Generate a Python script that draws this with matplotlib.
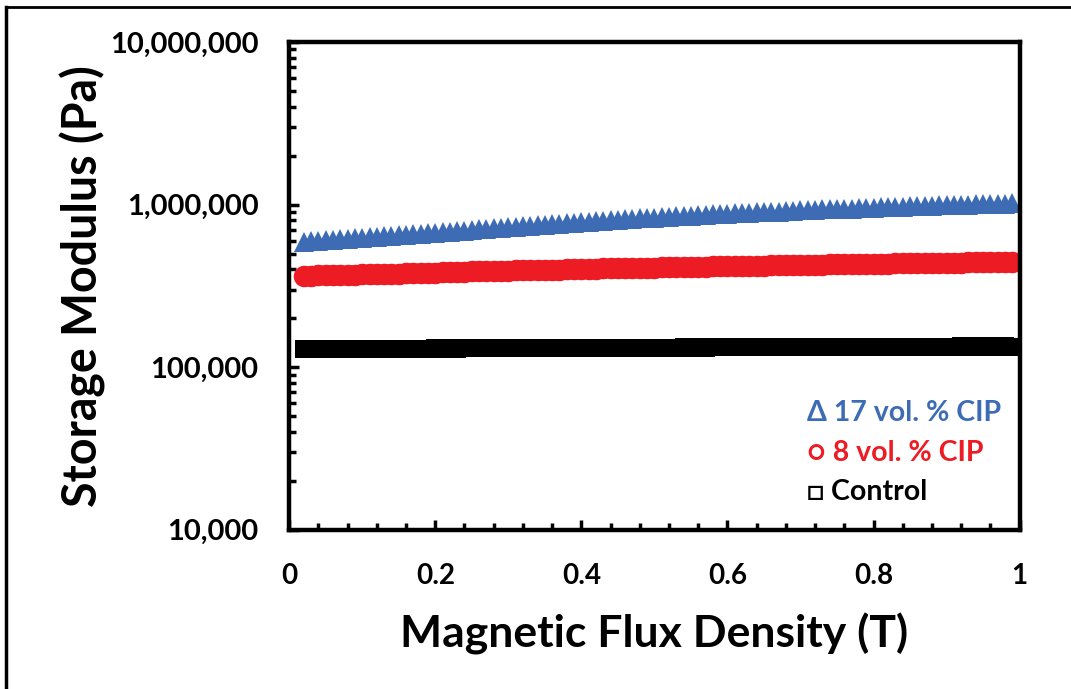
#Storage modulus vs magnetic flux density for CIP-filled samples

import matplotlib
matplotlib.use('Agg')
import matplotlib.pyplot as plt
from matplotlib.ticker import FuncFormatter, MultipleLocator, LogLocator
from matplotlib.lines import Line2D

plt.rcParams['font.family'] = ['Lato', 'DejaVu Sans']
plt.rcParams['font.weight'] = 'bold'

#magnetic flux density sweep (T)
flux_density = [
    0.02, 0.03, 0.04, 0.05, 0.06, 0.07, 0.08, 0.09, 0.10, 0.11,
    0.12, 0.13, 0.14, 0.15, 0.16, 0.17, 0.18, 0.19, 0.20, 0.21,
    0.22, 0.23, 0.24, 0.25, 0.26, 0.27, 0.28, 0.29, 0.30, 0.31,
    0.32, 0.33, 0.34, 0.35, 0.36, 0.37, 0.38, 0.39, 0.40, 0.41,
    0.42, 0.43, 0.44, 0.45, 0.46, 0.47, 0.48, 0.49, 0.50, 0.51,
    0.52, 0.53, 0.54, 0.55, 0.56, 0.57, 0.58, 0.59, 0.60, 0.61,
    0.62, 0.63, 0.64, 0.65, 0.66, 0.67, 0.68, 0.69, 0.70, 0.71,
    0.72, 0.73, 0.74, 0.75, 0.76, 0.77, 0.78, 0.79, 0.80, 0.81,
    0.82, 0.83, 0.84, 0.85, 0.86, 0.87, 0.88, 0.89, 0.90, 0.91,
    0.92, 0.93, 0.94, 0.95, 0.96, 0.97, 0.98, 0.99,
]

#storage modulus in kPa for each sample
cip17_kpa = [
    590, 596, 599, 603, 609, 611, 617, 620, 625, 631,
    633, 640, 643, 648, 654, 656, 663, 667, 672, 678,
    681, 688, 692, 698, 704, 707, 714, 719, 724, 731,
    734, 741, 746, 752, 758, 761, 769, 773, 780, 786,
    788, 796, 800, 806, 812, 814, 822, 826, 832, 837,
    840, 847, 851, 856, 861, 863, 870, 874, 878, 883,
    885, 892, 896, 900, 905, 907, 914, 917, 921, 926,
    927, 934, 937, 940, 945, 946, 953, 955, 958, 963,
    964, 970, 972, 975, 980, 980, 986, 988, 990, 995,
    995, 1001, 1002, 1005, 1009, 1009, 1014, 1018,
]

cip8_kpa = [
    365, 366, 368, 368, 369, 370, 371, 371, 372, 374,
    374, 376, 376, 377, 379, 379, 380, 381, 382, 384,
    384, 386, 386, 388, 389, 389, 391, 392, 393, 394,
    394, 396, 396, 397, 399, 399, 400, 401, 402, 403,
    403, 405, 405, 406, 407, 407, 409, 409, 410, 411,
    411, 413, 413, 414, 415, 415, 417, 417, 418, 419,
    419, 421, 421, 422, 423, 423, 425, 425, 426, 427,
    427, 428, 429, 429, 430, 431, 431, 432, 433, 434,
    434, 435, 435, 436, 437, 437, 438, 438, 439, 440,
    440, 441, 441, 442, 442, 443, 443, 444,
]

control_kpa = [
    129.0, 129.3, 128.8, 129.2, 129.4, 129.0, 129.5, 129.3, 129.6, 129.4,
    129.8, 129.5, 130.0, 129.7, 130.1, 129.9, 130.2, 130.0, 130.4, 130.1,
    130.5, 130.3, 130.6, 130.8, 130.4, 130.9, 130.7, 131.0, 130.8, 131.1,
    130.9, 131.2, 131.0, 131.4, 131.1, 131.3, 131.5, 131.2, 131.6, 131.4,
    131.7, 131.5, 131.8, 131.6, 131.9, 131.7, 132.0, 131.8, 132.1, 131.9,
    132.2, 132.0, 132.3, 132.1, 132.4, 132.2, 132.5, 132.3, 132.6, 132.4,
    132.7, 132.5, 132.8, 132.6, 132.9, 132.7, 133.0, 132.8, 133.1, 132.9,
    133.2, 133.0, 133.3, 133.1, 133.4, 133.2, 133.5, 133.3, 133.6, 133.4,
    133.7, 133.5, 133.8, 133.6, 133.9, 133.7, 134.0, 133.8, 134.1, 133.9,
    134.2, 134.0, 134.3, 134.1, 134.2, 134.0, 134.3, 134.1,
]

labels = ['\u0394 17 vol. % CIP', '\u25cb 8 vol. % CIP', '\u25a1 Control']
colors = ['#3D6CB5', '#ED1C24', 'black']

#convert kPa to Pa
cip17 = [v * 1000 for v in cip17_kpa]
cip8 = [v * 1000 for v in cip8_kpa]
control = [v * 1000 for v in control_kpa]

fig = plt.figure(figsize=(10.71, 6.89), dpi=100)
ax = fig.add_axes([0.270, 0.231, 0.682, 0.708])

ax.plot(flux_density, control, linestyle='none', marker='s', markersize=13.5,
        color=colors[2], markeredgewidth=0)
ax.plot(flux_density, cip8, linestyle='none', marker='o', markersize=15.5,
        color=colors[1], markeredgewidth=0)
ax.plot(flux_density, cip17, linestyle='none', marker='^', markersize=14.5,
        color=colors[0], markeredgewidth=0)

ax.set_yscale('log')
ax.set_ylim(1e4, 1e7)
ax.set_xlim(0, 1)

ax.yaxis.set_major_locator(LogLocator(base=10, numticks=10))
ax.yaxis.set_minor_locator(LogLocator(base=10, subs=range(2, 10), numticks=20))
ax.yaxis.set_major_formatter(FuncFormatter(lambda v, p: f'{int(round(v)):,}'))
ax.xaxis.set_major_locator(MultipleLocator(0.2))
ax.xaxis.set_minor_locator(MultipleLocator(0.04))
ax.xaxis.set_major_formatter(FuncFormatter(lambda v, p: f'{v:g}'))

for side in ax.spines:
    ax.spines[side].set_linewidth(3.2)

ax.tick_params(which='major', direction='in', length=7, width=2.5)
ax.tick_params(which='minor', direction='in', length=5, width=2.5)
ax.tick_params(axis='y', which='both', pad=22, labelsize=21)
ax.tick_params(axis='x', which='both', pad=24, labelsize=20)

ax.set_xlabel('Magnetic Flux Density (T)', fontsize=32, fontweight='bold', labelpad=17)
ax.set_ylabel('Storage Modulus (Pa)', fontsize=33.5, fontweight='bold', labelpad=3)

#text labels in place of a legend box
ys = [0.240, 0.158, 0.078]
for lab, c, y in zip(labels, colors, ys):
    ax.text(0.709, y, lab, color=c, fontsize=20.5, fontweight='bold',
            transform=ax.transAxes, va='center', ha='left')

#frame around the figure (top and left edges)
fig.add_artist(Line2D([6/1071, 1.1], [1 - 7/689, 1 - 7/689], color='black', linewidth=2))
fig.add_artist(Line2D([6/1071, 6/1071], [-0.1, 1 - 7/689], color='black', linewidth=2.5))

fig.savefig('out.png', dpi=100)
